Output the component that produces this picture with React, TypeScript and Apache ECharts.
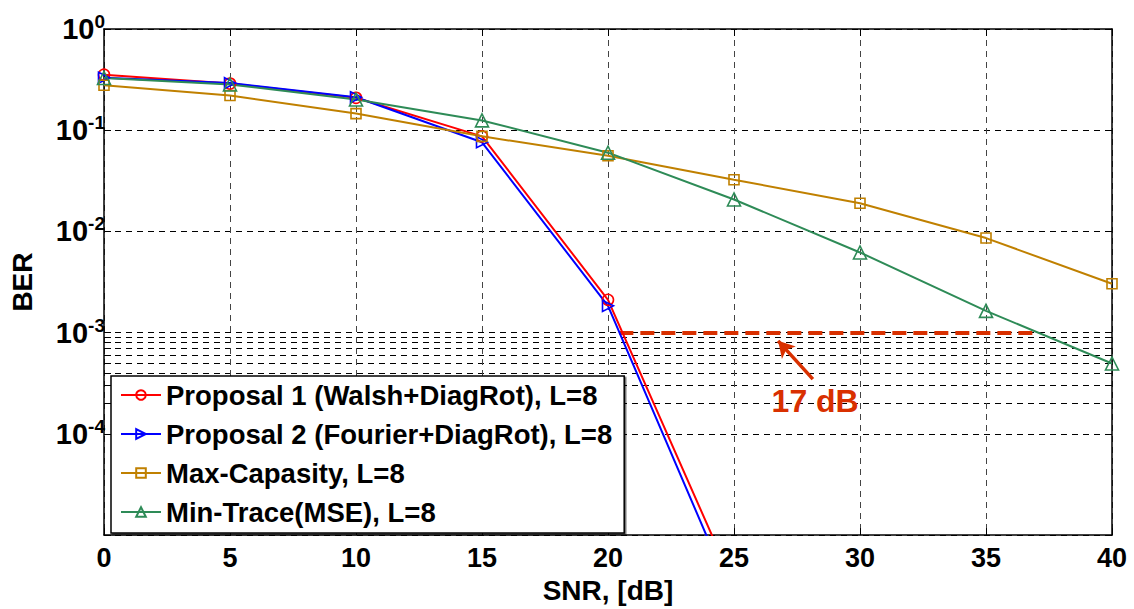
import React, { useEffect, useRef } from 'react';
import * as echarts from 'echarts';

const FONT = '"Liberation Sans", Arial, Helvetica, sans-serif';

// SNR (dB)
const snrShort = [0, 5, 10, 15, 20, 25];
const snrFull = [0, 5, 10, 15, 20, 25, 30, 35, 40];
// BER values
const proposal1 = [0.354, 0.289, 0.209, 0.087, 2.11e-3, 3.2e-6];
const proposal2 = [0.33, 0.292, 0.212, 0.076, 1.84e-3, 2.3e-6];
const maxCapasity = [0.278, 0.22, 0.146, 0.087, 0.056, 0.0324, 0.019, 0.0086, 0.00304];
const minTrace = [0.328, 0.283, 0.201, 0.125, 0.06, 0.0207, 0.0062, 0.00164, 0.000496];

const seriesNames = [
  'Proposal 1 (Walsh+DiagRot), L=8',
  'Proposal 2 (Fourier+DiagRot), L=8',
  'Max-Capasity, L=8',
  'Min-Trace(MSE), L=8',
];

// axis ticks
const xTicks = [0, 5, 10, 15, 20, 25, 30, 35, 40];
const yMajor = [1e-5, 1e-4, 1e-3, 1e-2, 1e-1, 1];
const yMinorBlack = [2e-4, 4e-4, 6e-4, 7e-4, 8e-4];
const yMinorGray = [3e-4, 5e-4, 9e-4];

// annotation
const gapStart = [20.45, 1e-3];
const gapEnd = [36.9, 1e-3];
const arrowTail = [28.13, 3.48e-4];
const arrowTip = [26.75, 8.3e-4];
const gapLabel = { text: '17 dB', snr: 28.22, ber: 2.11e-4 };

const RED = '#FF0000';
const BLUE = '#0000FF';
const ORANGE = '#C08000';
const GREEN = '#2E8B57';
const ANNOT = '#D93000';

const blueSymbol = 'path://M0,0 L10,5 L0,10 Z';

export default function App() {
  const ref = useRef<HTMLDivElement>(null);
  useEffect(() => {
    if (!ref.current) return;
    const chart = echarts.init(ref.current, undefined, { renderer: 'svg' });
    const yTickValues = [...yMajor, ...yMinorBlack, ...yMinorGray].sort((a, b) => a - b);
    const labelFmt = (v: number) => {
      const e = Math.round(Math.log10(v));
      if (e <= -5) return '';
      return `{b|10}{s|${e}}`;
    };
    const rich = {
      b: { fontSize: 29, fontWeight: 'bold', fontFamily: FONT, color: '#000', verticalAlign: 'middle', lineHeight: 34 },
      s: { fontSize: 19, fontWeight: 'bold', fontFamily: FONT, color: '#000', verticalAlign: 'top', lineHeight: 9 },
    };
    const mkLine = (name: string, xs: number[], ys: number[], color: string, symbol: string, size: number, width: number) => ({
      name,
      type: 'line',
      data: xs.map((x, i) => [x, ys[i]]),
      symbol,
      symbolSize: size,
      showSymbol: true,
      clip: true,
      z: 5,
      lineStyle: { color, width },
      itemStyle: { color: 'rgba(255,255,255,0)', borderColor: color, borderWidth: 1.6 },
    });
    const option: any = {
      animation: false,
      backgroundColor: '#fff',
      grid: { left: 100, right: 22, top: 29, bottom: 69 },
      xAxis: [
        {
          type: 'value', min: 0, max: 40, interval: 5, position: 'bottom',
          axisLine: { show: true, onZero: false, lineStyle: { color: '#000', width: 1.5 } },
          axisTick: { show: true, inside: true, length: 7, lineStyle: { color: '#000', width: 1 } },
          axisLabel: { fontSize: 27, fontWeight: 'bold', color: '#000', fontFamily: FONT, margin: 9,
            formatter: (v: number) => (xTicks.includes(v) ? String(v) : '') },
          splitLine: { show: true, lineStyle: { color: '#444', type: [6, 5], width: 1 } },
          name: 'SNR, [dB]', nameLocation: 'middle', nameGap: 40,
          nameTextStyle: { fontSize: 28, fontWeight: 'bold', color: '#000', fontFamily: FONT },
        },
        {
          type: 'value', min: 0, max: 40, interval: 5, position: 'top',
          axisLine: { show: true, onZero: false, lineStyle: { color: '#000', width: 1.5 } },
          axisTick: { show: true, inside: true, length: 7, lineStyle: { color: '#000', width: 1 } },
          axisLabel: { show: false },
          splitLine: { show: false },
        },
      ],
      yAxis: [
        {
          type: 'log', logBase: 10, min: 1e-5, max: 1, position: 'left',
          axisLine: { show: true, onZero: false, lineStyle: { color: '#000', width: 1.5 } },
          axisTick: { show: true, inside: true, length: 7, customValues: yTickValues, lineStyle: { color: '#000', width: 1 } },
          axisLabel: { formatter: labelFmt, rich, margin: -1 },
          splitLine: { show: true, lineStyle: { color: '#000', type: [6, 5], width: 1 } },
          name: 'BER', nameLocation: 'middle', nameGap: 68, nameRotate: 90,
          nameTextStyle: { fontSize: 28, fontWeight: 'bold', color: '#000', fontFamily: FONT },
        },
        {
          type: 'log', logBase: 10, min: 1e-5, max: 1, position: 'right',
          axisLine: { show: true, onZero: false, lineStyle: { color: '#000', width: 1.5 } },
          axisTick: { show: true, inside: true, length: 7, customValues: yTickValues, lineStyle: { color: '#000', width: 1 } },
          axisLabel: { show: false },
          splitLine: { show: false },
        },
      ],
      legend: {
        show: true,
        orient: 'vertical',
        left: 111,
        top: 376,
        data: seriesNames,
        itemWidth: 40,
        itemHeight: 12,
        itemGap: 9,
        padding: [4, 12, 6, 9],
        backgroundColor: '#fff',
        borderColor: '#000',
        borderWidth: 1.5,
        shadowColor: 'rgba(0,0,0,0.55)',
        shadowOffsetX: 1.5,
        shadowOffsetY: 1.5,
        shadowBlur: 0,
        textStyle: { fontSize: 27.5, fontWeight: 'bold', color: '#000', fontFamily: FONT, lineHeight: 30 },
      },
      series: [
        {
          name: 'minor-grid',
          type: 'line',
          data: [],
          silent: true,
          z: 1,
          markLine: {
            silent: true,
            symbol: ['none', 'none'],
            label: { show: false },
            data: [
              ...yMinorBlack.map((v) => ({ yAxis: v, lineStyle: { color: '#000', type: [6, 5], width: 1 } })),
              ...yMinorGray.map((v) => ({ yAxis: v, lineStyle: { color: '#808080', type: [6, 5], width: 1.2 } })),
            ],
          },
        },
        mkLine(seriesNames[0], snrShort, proposal1, RED, 'circle', 11, 2),
        mkLine(seriesNames[1], snrShort, proposal2, BLUE, blueSymbol, 11, 2),
        mkLine(seriesNames[2], snrFull, maxCapasity, ORANGE, 'rect', 10, 2),
        mkLine(seriesNames[3], snrFull, minTrace, GREEN, 'triangle', 13, 2),
        {
          name: 'annotation',
          type: 'line',
          data: [],
          silent: true,
          z: 6,
          markLine: {
            silent: true,
            label: { show: false },
            data: [
              [
                { coord: gapStart, symbol: 'none', lineStyle: { color: ANNOT, width: 4, type: [14, 7] } },
                { coord: gapEnd, symbol: 'none' },
              ],
              [
                { coord: arrowTail, symbol: 'none', lineStyle: { color: ANNOT, width: 3.5, type: 'solid' } },
                { coord: arrowTip, symbol: 'arrow', symbolSize: [14, 16] },
              ],
            ],
          },
          markPoint: {
            silent: true,
            symbol: 'circle',
            symbolSize: 0,
            data: [
              {
                coord: [gapLabel.snr, gapLabel.ber],
                label: { show: true, formatter: gapLabel.text, position: 'inside', fontSize: 32, fontWeight: 'bold', color: ANNOT, fontFamily: FONT },
              },
            ],
          },
        },
      ],
    };
    chart.setOption(option);
    return () => chart.dispose();
  }, []);
  return <div ref={ref} style={{ width: 1134, height: 609, position: 'absolute', left: 0, top: 0 }} />;
}
